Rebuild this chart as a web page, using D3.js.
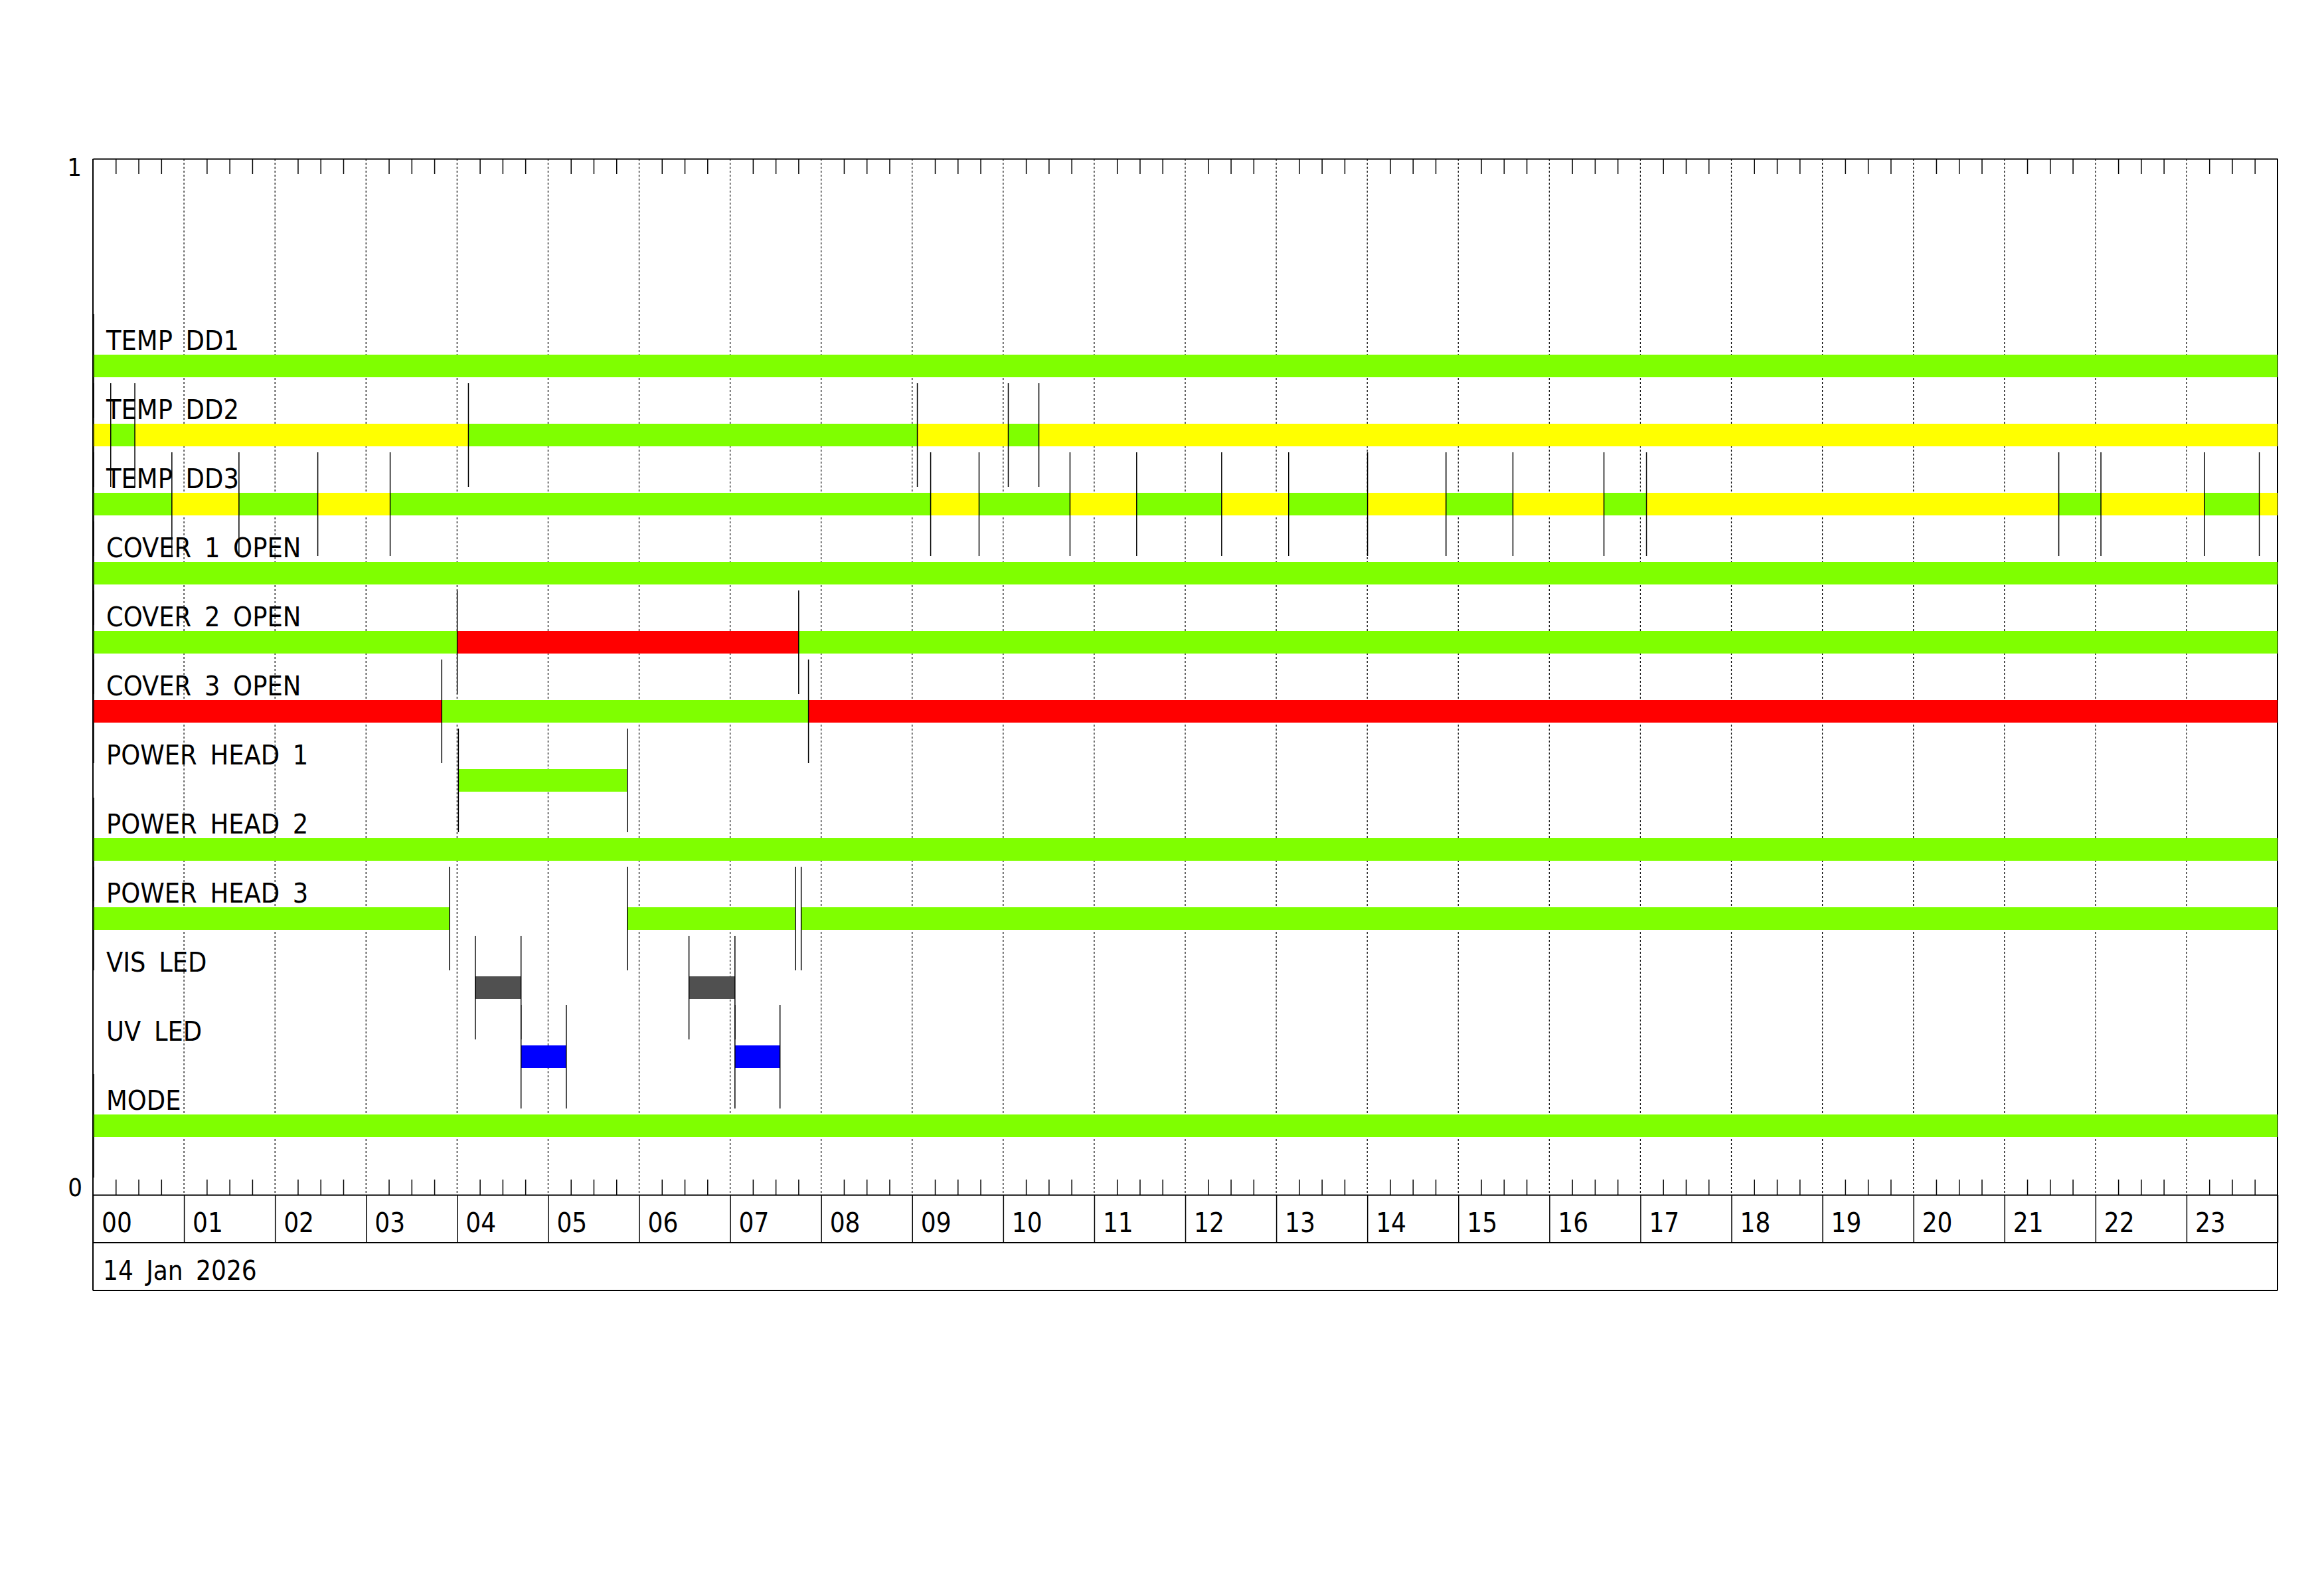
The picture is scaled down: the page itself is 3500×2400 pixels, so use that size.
<!DOCTYPE html>
<html>
<head>
<meta charset="utf-8">
<script src="https://cdn.jsdelivr.net/npm/d3@7"></script>
<style>
  body { margin: 0; background: #fff; }
  text { font-family: "DejaVu Sans Condensed", "DejaVu Sans", sans-serif; font-stretch: condensed; fill: #000; }
</style>
</head>
<body>
<div id="chart"></div>
<script>
// row names, top to bottom
var rowLabels = ["TEMP DD1", "TEMP DD2", "TEMP DD3", "COVER 1 OPEN", "COVER 2 OPEN", "COVER 3 OPEN",
  "POWER HEAD 1", "POWER HEAD 2", "POWER HEAD 3", "VIS LED", "UV LED", "MODE"];

// segments: [start hour, end hour, state]
var tempDD1 = [[0, 24, "ok"]];
var tempDD2 = [[0, 0.195, "warn"], [0.195, 0.46, "ok"], [0.46, 4.125, "warn"], [4.125, 9.057, "ok"],
  [9.057, 10.056, "warn"], [10.056, 10.392, "ok"], [10.392, 24, "warn"]];
var tempDD3 = [[0, 0.867, "ok"], [0.867, 1.604, "warn"], [1.604, 2.47, "ok"], [2.47, 3.265, "warn"],
  [3.265, 9.203, "ok"], [9.203, 9.735, "warn"], [9.735, 10.734, "ok"], [10.734, 11.466, "warn"],
  [11.466, 12.4, "ok"], [12.4, 13.136, "warn"], [13.136, 14.003, "ok"], [14.003, 14.865, "warn"],
  [14.865, 15.6, "ok"], [15.6, 16.6, "warn"], [16.6, 17.067, "ok"], [17.067, 21.597, "warn"],
  [21.597, 22.06, "ok"], [22.06, 23.197, "warn"], [23.197, 23.8, "ok"], [23.8, 24, "warn"]];
var cover1 = [[0, 24, "ok"]];
var cover2 = [[0, 4.002, "ok"], [4.002, 7.753, "alarm"], [7.753, 24, "ok"]];
var cover3 = [[0, 3.832, "alarm"], [3.832, 7.861, "ok"], [7.861, 24, "alarm"]];
var powerHead1 = [[4.015, 5.871, "ok"]];
var powerHead2 = [[0, 24, "ok"]];
var powerHead3 = [[0, 3.918, "ok"], [5.871, 7.718, "ok"], [7.781, 24, "ok"]];
var visLed = [[4.2, 4.703, "vis"], [6.548, 7.053, "vis"]];
var uvLed = [[4.703, 5.2, "uv"], [7.053, 7.548, "uv"]];
var mode = [[0, 24, "ok"]];

var rowSegments = [tempDD1, tempDD2, tempDD3, cover1, cover2, cover3,
  powerHead1, powerHead2, powerHead3, visLed, uvLed, mode];

var hourLabels = ["00", "01", "02", "03", "04", "05", "06", "07", "08", "09", "10", "11",
  "12", "13", "14", "15", "16", "17", "18", "19", "20", "21", "22", "23"];
var dateLabel = "14 Jan 2026";

var stateColor = { ok: "#7fff00", warn: "#ffff00", alarm: "#ff0000", vis: "#505050", uv: "#0000ff" };

var width = 3500, height = 2400;
var plotLeft = 140, plotRight = 3430, plotTop = 239, plotBottom = 1799;
var rowH = 72; // hour label row and date row heights

var svg = d3.select("#chart").append("svg")
  .attr("width", width).attr("height", height);
svg.append("rect").attr("width", width).attr("height", height).attr("fill", "#fff");

var x = d3.scaleLinear().domain([0, 24]).range([plotLeft, plotRight]);
var y = d3.scaleLinear().domain([0, 1]).range([plotBottom, plotTop]);

// each row sits on k/15 of the y range
var rowValue = function(i) { return (rowLabels.length - i) / 15; };
var halfBar = 0.0106, halfMark = 0.05;

// hour gridlines (dashed)
svg.append("g").selectAll("line")
  .data(d3.range(1, 24))
  .enter().append("line")
  .attr("x1", function(d) { return x(d); }).attr("x2", function(d) { return x(d); })
  .attr("y1", plotTop).attr("y2", plotBottom)
  .attr("stroke", "#000").attr("stroke-width", 1.2)
  .attr("stroke-dasharray", "3,3");

// minor ticks on quarter hours
var quarters = d3.range(0, 24, 0.25).filter(function(d) { return d % 1 !== 0; });
var topAxis = d3.axisBottom(x).tickValues(quarters).tickSize(23).tickSizeOuter(0).tickFormat("");
var botAxis = d3.axisTop(x).tickValues(quarters).tickSize(23).tickSizeOuter(0).tickFormat("");
svg.append("g").attr("transform", "translate(0," + plotTop + ")").call(topAxis);
svg.append("g").attr("transform", "translate(0," + plotBottom + ")").call(botAxis);
svg.selectAll(".domain").attr("stroke", "#000").attr("stroke-width", 2);
svg.selectAll(".tick line").attr("stroke", "#000").attr("stroke-width", 1.5);

// hour label row separators
var hourAxis = d3.axisBottom(x).tickValues(d3.range(0, 25)).tickSize(rowH).tickSizeOuter(0).tickFormat("");
svg.append("g").attr("transform", "translate(0," + plotBottom + ")").call(hourAxis)
  .call(function(g) { g.select(".domain").remove(); })
  .selectAll(".tick line").attr("stroke", "#000").attr("stroke-width", 1.5);

// frame lines
var frame = svg.append("g").attr("stroke", "#000").attr("stroke-width", 2);
frame.append("line").attr("x1", plotLeft).attr("x2", plotLeft).attr("y1", plotTop).attr("y2", plotBottom + 2 * rowH);
frame.append("line").attr("x1", plotRight).attr("x2", plotRight).attr("y1", plotTop).attr("y2", plotBottom + 2 * rowH);
frame.append("line").attr("x1", plotLeft).attr("x2", plotRight).attr("y1", plotBottom + rowH).attr("y2", plotBottom + rowH);
frame.append("line").attr("x1", plotLeft).attr("x2", plotRight).attr("y1", plotBottom + 2 * rowH).attr("y2", plotBottom + 2 * rowH);

// hour labels
svg.append("g").selectAll("text")
  .data(hourLabels)
  .enter().append("text")
  .attr("x", function(d, i) { return x(i) + 13; })
  .attr("y", plotBottom + 56)
  .attr("font-size", 40)
  .text(function(d) { return d; });

svg.append("text")
  .attr("x", plotLeft + 15).attr("y", plotBottom + rowH + 56)
  .attr("font-size", 40).style("word-spacing", "8px")
  .text(dateLabel);

// y-axis end labels
svg.append("text").attr("x", 123).attr("y", y(1) + 26).attr("text-anchor", "end")
  .attr("font-size", 38).text("1");
svg.append("text").attr("x", 124).attr("y", y(0) + 2).attr("text-anchor", "end")
  .attr("font-size", 38).text("0");

// rows
rowSegments.forEach(function(segs, i) {
  var v = rowValue(i);
  var g = svg.append("g");

  g.selectAll("rect")
    .data(segs)
    .enter().append("rect")
    .attr("x", function(d) { return x(d[0]); })
    .attr("width", function(d) { return x(d[1]) - x(d[0]); })
    .attr("y", y(v + halfBar))
    .attr("height", y(v - halfBar) - y(v + halfBar))
    .attr("fill", function(d) { return stateColor[d[2]]; })
    .attr("shape-rendering", "crispEdges");

  // change markers at segment edges
  var edges = [];
  segs.forEach(function(d) {
    if (edges.indexOf(d[0]) < 0) edges.push(d[0]);
    if (d[1] < 24 && edges.indexOf(d[1]) < 0) edges.push(d[1]);
  });
  g.selectAll("line")
    .data(edges)
    .enter().append("line")
    .attr("x1", function(d) { return x(d) + (d === 0 ? 1 : 0); })
    .attr("x2", function(d) { return x(d) + (d === 0 ? 1 : 0); })
    .attr("y1", y(v + halfMark)).attr("y2", y(v - halfMark))
    .attr("stroke", "#000").attr("stroke-width", 1.5);

  g.append("text")
    .attr("x", plotLeft + 20)
    .attr("y", y(v + halfBar) - 7)
    .attr("font-size", 41).style("word-spacing", "8px")
    .text(rowLabels[i]);
});
</script>
</body>
</html>
